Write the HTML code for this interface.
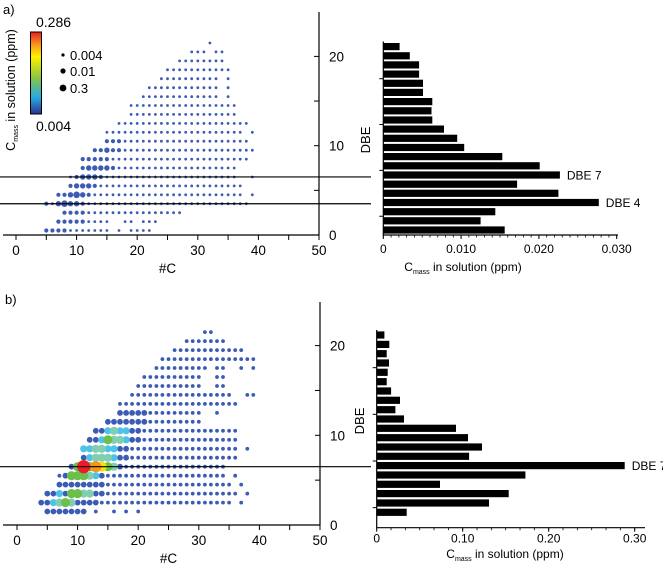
<!DOCTYPE html>
<html><head><meta charset="utf-8"><style>
html,body{margin:0;padding:0;background:#fff}
svg{display:block;font-family:"Liberation Sans",Arial,sans-serif}
</style></head><body>
<svg id="fig" width="663" height="568" viewBox="0 0 663 568">
<defs><linearGradient id="cbar" x1="0" y1="1" x2="0" y2="0">
<stop offset="0" stop-color="#2e3192"/><stop offset="0.2" stop-color="#27aae1"/><stop offset="0.45" stop-color="#8dc63f"/><stop offset="0.7" stop-color="#fff200"/><stop offset="0.85" stop-color="#f7941d"/><stop offset="1" stop-color="#ed1c24"/></linearGradient></defs>
<g id="root"></g>
<text x="3" y="14" font-size="13">a)</text>
<text x="5" y="304" font-size="13">b)</text>
<rect x="30.5" y="32" width="11" height="82" fill="url(#cbar)" stroke="#000" stroke-width="1"/>
<text x="36" y="27" font-size="14">0.286</text>
<text x="36" y="131" font-size="14">0.004</text>
<circle cx="63" cy="55" r="1.6" fill="#000"/>
<circle cx="63" cy="71" r="2.6" fill="#000"/>
<circle cx="63" cy="88" r="3.4" fill="#000"/>
<text x="70" y="60" font-size="13">0.004</text>
<text x="70" y="76" font-size="13">0.01</text>
<text x="70" y="93" font-size="13">0.3</text>
<text transform="translate(15,90) rotate(-90)" text-anchor="middle" font-size="12.5">C<tspan font-size="7" dy="3">mass</tspan><tspan dy="-3"> in solution (ppm)</tspan></text>
</svg>
<script>
// ---- data ----
const rowsA_dbe = [1,2,3,4,5,6,7,8,9,10,11,12,13,14,15,16,17,18,19,20,21,22];
const rowsA_c = ["5-15,17,19-22","7-15,18,19,21-23","8-27","5-38","7-37,39","9-37","9-36,39","11-36","11-38","13-39","15-38","15-37,39","17-38","19-36","19-36","21-33,35","22-33,35","24-33,35","25-35","27-34","29-31,33,34","32"];
const highA = [[1,5,1],[1,6,1],[1,7,1],[1,8,1],[2,7,1],[2,8,1],[2,9,1],[2,10,1],[2,11,1],[3,8,1],[3,9,1],[3,10,1],[3,11,1],
[4,5,1],[4,7,2],[4,8,3],[4,9,2],[4,10,2],[4,11,1],[5,7,1],[5,8,1],[5,9,2],[5,10,3],[5,11,2],[5,12,1],
[6,9,1],[6,10,2],[6,11,2],[6,12,2],[6,13,1],[7,10,1],[7,11,2],[7,12,2],[7,13,2],[7,14,1],
[8,11,1],[8,12,2],[8,13,2],[8,14,2],[8,15,2],[8,16,1],[9,11,1],[9,12,1],[9,13,1],[9,14,1],[9,15,1],
[10,13,1],[10,14,1],[10,15,2],[10,16,1],[10,17,1],[11,15,1],[11,16,1],[11,17,1]];
const rowsB_dbe = [2,3,4,5,6,7,8,9,10,11,12,13,14,15,16,17,18,19,20,21,22];
const rowsB_c = ["5-11,13,16,18,20","4-35,37","5-36,38","7-35,37","7-34,36","9-34","11-36","11-36,38","12-36","13-36","15-30","17-30,33","17-36","19-35,38,39","20-30,33,34","21-30,33,34","23-31,33,34,37,39","24-39","26-37","28-34","31,32"];
const highB = [[2,5,1],[2,6,1],[2,7,1],[2,8,1],[2,9,1],[2,10,1],[2,11,1],
[3,4,1],[3,5,1],[3,6,2],[3,7,3],[3,8,4],[3,9,3],[3,10,1],[3,11,1],[3,12,1],[3,13,1],
[4,5,1],[4,6,1],[4,7,2],[4,8,1],[4,9,4],[4,10,4],[4,11,3],[4,12,3],[4,13,1],[4,14,1],
[5,7,1],[5,8,1],[5,9,1],[5,10,1],[5,11,1],[5,12,1],[5,13,1],[5,14,1],
[6,8,1],[6,9,4],[6,10,4],[6,11,4],[6,12,3],[6,13,2],[6,14,1],
[7,9,1],[7,10,4],[7,12,4],[7,14,5],[7,13,6],[7,11,7],[7,15,4],[7,16,3],[7,17,1],
[8,11,1],[8,12,2],[8,13,3],[8,14,3],[8,15,3],[8,16,2],[8,17,1],[8,18,1],
[9,11,2],[9,12,2],[9,13,3],[9,14,3],[9,15,2],[9,16,2],[9,17,1],[9,18,1],
[10,12,1],[10,13,1],[10,14,2],[10,15,4],[10,16,3],[10,17,3],[10,18,2],[10,19,1],[10,20,1],
[11,13,1],[11,14,1],[11,15,2],[11,16,3],[11,17,2],[11,18,2],[11,19,1],[11,20,1],
[12,15,1],[12,16,1],[12,17,1],[12,18,1],[12,19,1],[12,20,1],[12,21,1],[13,17,1],[13,18,1],[13,19,1],[13,20,1],[13,21,1]];
const barsA_dbe = [1,2,3,4,5,6,7,8,9,10,11,12,13,14,15,16,17,18,19,20,21];
const barsA_val = [0.0156,0.0125,0.0144,0.0277,0.0225,0.0172,0.0227,0.0201,0.0153,0.0104,0.0095,0.0078,0.0063,0.0062,0.0063,0.0051,0.0051,0.0046,0.0046,0.0034,0.0021];
const barsB_dbe = [2,3,4,5,6,7,8,9,10,11,12,13,14,15,16,17,18,19,20,21];
const barsB_val = [0.0349,0.1306,0.1535,0.0736,0.1729,0.2884,0.1074,0.1225,0.1062,0.0922,0.0318,0.0217,0.0271,0.0167,0.0116,0.0128,0.0143,0.0116,0.0147,0.0089];
const xTicksScatter = [0,10,20,30,40,50];
const yTicksScatter = [0,10,20];
const barTicksA = [0,0.010,0.020,0.030];
const barTickLabelsA = ["0","0.010","0.020","0.030"];
const barTicksB = [0,0.10,0.20,0.30];
const barTickLabelsB = ["0","0.10","0.20","0.30"];
</script>
<script>
const NS="http://www.w3.org/2000/svg";
const root=document.getElementById('root');
function mk(tag,attrs,parent){const e=document.createElementNS(NS,tag);for(const k in attrs)e.setAttribute(k,attrs[k]);(parent||root).appendChild(e);return e;}
function parseList(s){const out=[];s.split(',').forEach(p=>{const r=p.split('-').map(Number);if(r.length===1)out.push(r[0]);else for(let c=r[0];c<=r[1];c++)out.push(c);});return out;}
const lvlColorA=['#3b5bb5','#3b5bb5','#3b5bb5','#3b5bb5'];
const lvlRadA=[1.4,2.1,2.7,3.3];
const lvlColorB=['#3b5bb5','#3b5bb5','#4ec3e8','#80cfb2','#6cbf4a','#f5e400','#f7941d','#ed1c24'];
const lvlRadB=[1.9,2.9,3.6,4.1,4.6,5.0,5.6,6.6];

function scatter(P,dbes,cs,high,colors,rads,tag){
  const xS=c=>P.x0+c*(P.x50-P.x0)/50;
  const yS=n=>P.y0-(n-0.5)*P.u;
  const yA=d=>P.y0-d*P.u;
  const g=mk('g',{});
  
  
  const hm={};high.forEach(h=>{hm[h[0]+'_'+h[1]]=h[2];});
  const pts=[];
  dbes.forEach((n,i)=>{parseList(cs[i]).forEach(c=>{pts.push([n,c,hm[n+'_'+c]||0]);});});
  pts.sort((a,b)=>a[2]-b[2]);
  pts.forEach(p=>{const e=mk('circle',{cx:xS(p[1]).toFixed(1),cy:yS(p[0]).toFixed(1),r:rads[p[2]],fill:colors[p[2]]},g);
    
    });
  const ax=mk('line',{x1:3,y1:P.y0,x2:P.x50,y2:P.y0,stroke:'#000','stroke-width':1.2});
  
  const ay=mk('line',{x1:P.x50,y1:P.top,x2:P.x50,y2:P.y0,stroke:'#000','stroke-width':1.2});
  
  for(let c=0;c<=50;c+=5){mk('line',{x1:xS(c),y1:P.y0,x2:xS(c),y2:P.y0+5,stroke:'#000','stroke-width':1});}
  xTicksScatter.forEach(c=>{const t=mk('text',{x:xS(c),y:P.y0+20,'text-anchor':'middle','font-size':13.5});t.textContent=c;
    });
  for(let d=0;d<=20;d+=5){mk('line',{x1:P.x50-5,y1:yA(d),x2:P.x50,y2:yA(d),stroke:'#000','stroke-width':1});}
  yTicksScatter.forEach(d=>{const t=mk('text',{x:P.x50+10,y:yA(d)+5,'font-size':13.5});t.textContent=d;
    });
  const xt=mk('text',{x:xS(25),y:P.y0+38,'text-anchor':'middle','font-size':13.5});xt.textContent='#C';
  
  return yS;
}
function bars(P,dbes,vals,ticks,labels,minorStep,yTicks,tag,refs){
  const xV=v=>P.x0+v*P.sc;
  const yB=n=>P.yc-(n-P.n0)*P.pitch;
  const g=mk('g',{});
  
  dbes.forEach((n,i)=>{const r=mk('rect',{x:P.x0,y:(yB(n)-3.6).toFixed(1),width:(xV(vals[i])-P.x0).toFixed(1),height:7.2,fill:'#000'},g);
    });
  const ax=mk('line',{x1:P.x0,y1:P.ya,x2:P.xend,y2:P.ya,stroke:'#000','stroke-width':1.2});
  
  const ay=mk('line',{x1:P.x0,y1:P.top,x2:P.x0,y2:P.ya,stroke:'#000','stroke-width':1.2});
  
  for(let v=0;xV(v)<=P.xend+0.5;v+=minorStep){mk('line',{x1:xV(v),y1:P.ya,x2:xV(v),y2:P.ya+2.5,stroke:'#000','stroke-width':0.8});}
  ticks.forEach((v,i)=>{mk('line',{x1:xV(v),y1:P.ya,x2:xV(v),y2:P.ya+4,stroke:'#000','stroke-width':1});
    const t=mk('text',{x:xV(v),y:P.ya+P.ly,'text-anchor':'middle','font-size':12});t.textContent=labels[i];
    });
  yTicks.forEach(n=>{mk('line',{x1:P.x0-4,y1:yB(n),x2:P.x0,y2:yB(n),stroke:'#000','stroke-width':1});});
  const tt=mk('text',{x:P.tx,y:P.ty,'text-anchor':'middle','font-size':12});
  tt.innerHTML='C<tspan font-size="7" dy="3">mass</tspan><tspan dy="-3"> in solution (ppm)</tspan>';
  
  refs.forEach(r=>{const i=dbes.indexOf(r);const t=mk('text',{x:xV(vals[i])+7,y:yB(r)+4.5,'font-size':12});t.textContent='DBE '+r;
    });
}
function dbeTitle(x,y,tag){const t=mk('text',{transform:`translate(${x},${y}) rotate(-90)`,'text-anchor':'middle','font-size':13});t.textContent='DBE';
  }

const yA=scatter({x0:16,x50:319,y0:235,u:8.93,top:12},rowsA_dbe,rowsA_c,highA,lvlColorA,lvlRadA,'panel-a');
[7,4].forEach(n=>{const l=mk('line',{x1:0,y1:yA(n),x2:371,y2:yA(n),stroke:'#000','stroke-width':1.2});
  });
bars({x0:383.3,sc:233.4/0.03,yc:230,n0:1,pitch:9.17,ya:235,xend:618,top:41.5,tx:463,ty:271,ly:18},barsA_dbe,barsA_val,barTicksA,barTickLabelsA,0.001,[2.5,7.5,12.5,17.5],'panel-a',[7,4]);
dbeTitle(370,140,'panel-a');
const yB2=scatter({x0:17,x50:320,y0:525,u:8.97,top:302},rowsB_dbe,rowsB_c,highB,lvlColorB,lvlRadB,'panel-b');
{const l=mk('line',{x1:0,y1:yB2(7),x2:371,y2:yB2(7),stroke:'#000','stroke-width':1.2});
 }
bars({x0:376.7,sc:86/0.1,yc:512.3,n0:2,pitch:9.33,ya:527.7,xend:645,top:330,tx:505,ty:558,ly:15},barsB_dbe,barsB_val,barTicksB,barTickLabelsB,0.1/6,[2.5,7.5,12.5,17.5],'panel-b',[7]);
dbeTitle(364,421,'panel-b');
</script>
</body></html>
